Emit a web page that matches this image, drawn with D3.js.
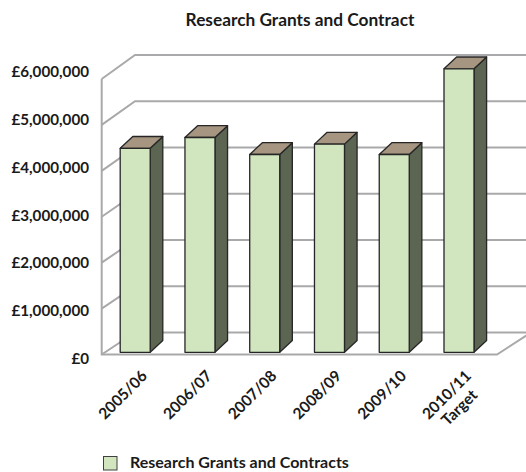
<!DOCTYPE html>
<html><head><meta charset="utf-8">
<script src="https://cdn.jsdelivr.net/npm/d3@7"></script>
<style>body{margin:0;background:#fff}svg{display:block}text{font-family:Lato,"Open Sans",sans-serif;font-weight:bold;fill:#1a1a1a}</style>
</head><body><svg id="c" width="526" height="472"></svg>
<script>
const categories = [["2005/06"],["2006/07"],["2007/08"],["2008/09"],["2009/10"],["2010/11","Target"]];
const values = [4440000, 4675000, 4305000, 4530000, 4305000, 6170000];
const yTicks = [0,1000000,2000000,3000000,4000000,5000000,6000000];
const tickLabels = yTicks.map(v => "£" + d3.format(",")(v));
const seriesName = "Research Grants and Contracts";
const title = "Research Grants and Contract";

const svg = d3.select("#c");
const keys = categories.map(c => c.join(" "));
// walls
const xFront = 101.7, xBack = 135, xFrontR = 497, xBackR = 531;
const yFront = d3.scaleLinear().domain([0,6000000]).range([354.5,79]);
const yBack = d3.scaleLinear().domain([0,6000000]).range([332.5,55]);
const yLab = d3.scaleLinear().domain([0,6000000]).range([358.5,72]);
const yBar = d3.scaleLinear().domain([0,6000000]).range([352.3,76.6]);
const x = d3.scalePoint().domain(keys).range([135.2,459]);
const bw = 30, ddx = 12.6, ddy = -11.8;
const grid = "#a9a9ab";

svg.append("text").attr("x",300).attr("y",26).attr("text-anchor","middle")
  .style("font-size","17.3px").text(title);

const g = svg.append("g").attr("fill","none").attr("stroke",grid).attr("stroke-width",2);
yTicks.forEach(t => {
  g.append("path").attr("d",`M${xFront},${yFront(t)}L${xBack},${yBack(t)}L${xBackR},${yBack(t)}`);
});
g.append("path").attr("d",`M${xFront},${yFront(6000000)}L${xFront},${yFront(0)}L${xFrontR},${yFront(0)}L${xBackR},${yBack(0)}`);

svg.append("g").selectAll("text").data(yTicks).join("text")
  .attr("x",89).attr("y",d=>yLab(d)).attr("dy","0.36em").attr("text-anchor","end")
  .style("font-size","15.2px").text((d,i)=>tickLabels[i]);

const bars = svg.append("g").attr("stroke","#262626").attr("stroke-width",1.3).attr("stroke-linejoin","round");
keys.forEach((k,i) => {
  const c = x(k), l = c - bw/2, r = c + bw/2, t = yBar(values[i]), b = yBar(0);
  bars.append("path").attr("fill","#5b6552")
    .attr("d",`M${r},${t}L${r+ddx},${t+ddy}L${r+ddx},${b+ddy}L${r},${b}Z`);
  bars.append("path").attr("fill","#a69580")
    .attr("d",`M${l},${t}L${l+ddx},${t+ddy}L${r+ddx},${t+ddy}L${r},${t}Z`);
  bars.append("rect").attr("fill","#d1e6bf").attr("x",l).attr("y",t).attr("width",bw).attr("height",b-t);
});

keys.forEach((k,i) => {
  const gl = svg.append("g").attr("transform",`translate(${x(k)+13},${377}) rotate(-45)`);
  const t1 = gl.append("text").attr("text-anchor","end").style("font-size","15.5px").text(categories[i][0]);
  if (categories[i].length > 1) {
    const w1 = t1.node().getComputedTextLength();
    gl.append("text").attr("text-anchor","middle").attr("x",-w1/2).attr("y",18)
      .style("font-size","15.5px").text(categories[i][1]);
  }
});

svg.append("rect").attr("x",103.5).attr("y",456.5).attr("width",13.5).attr("height",13.5)
  .attr("fill","#d1e6bf").attr("stroke","#404040").attr("stroke-width",1);
svg.append("text").attr("x",130).attr("y",468).style("font-size","16px").text(seriesName);
</script></body></html>
